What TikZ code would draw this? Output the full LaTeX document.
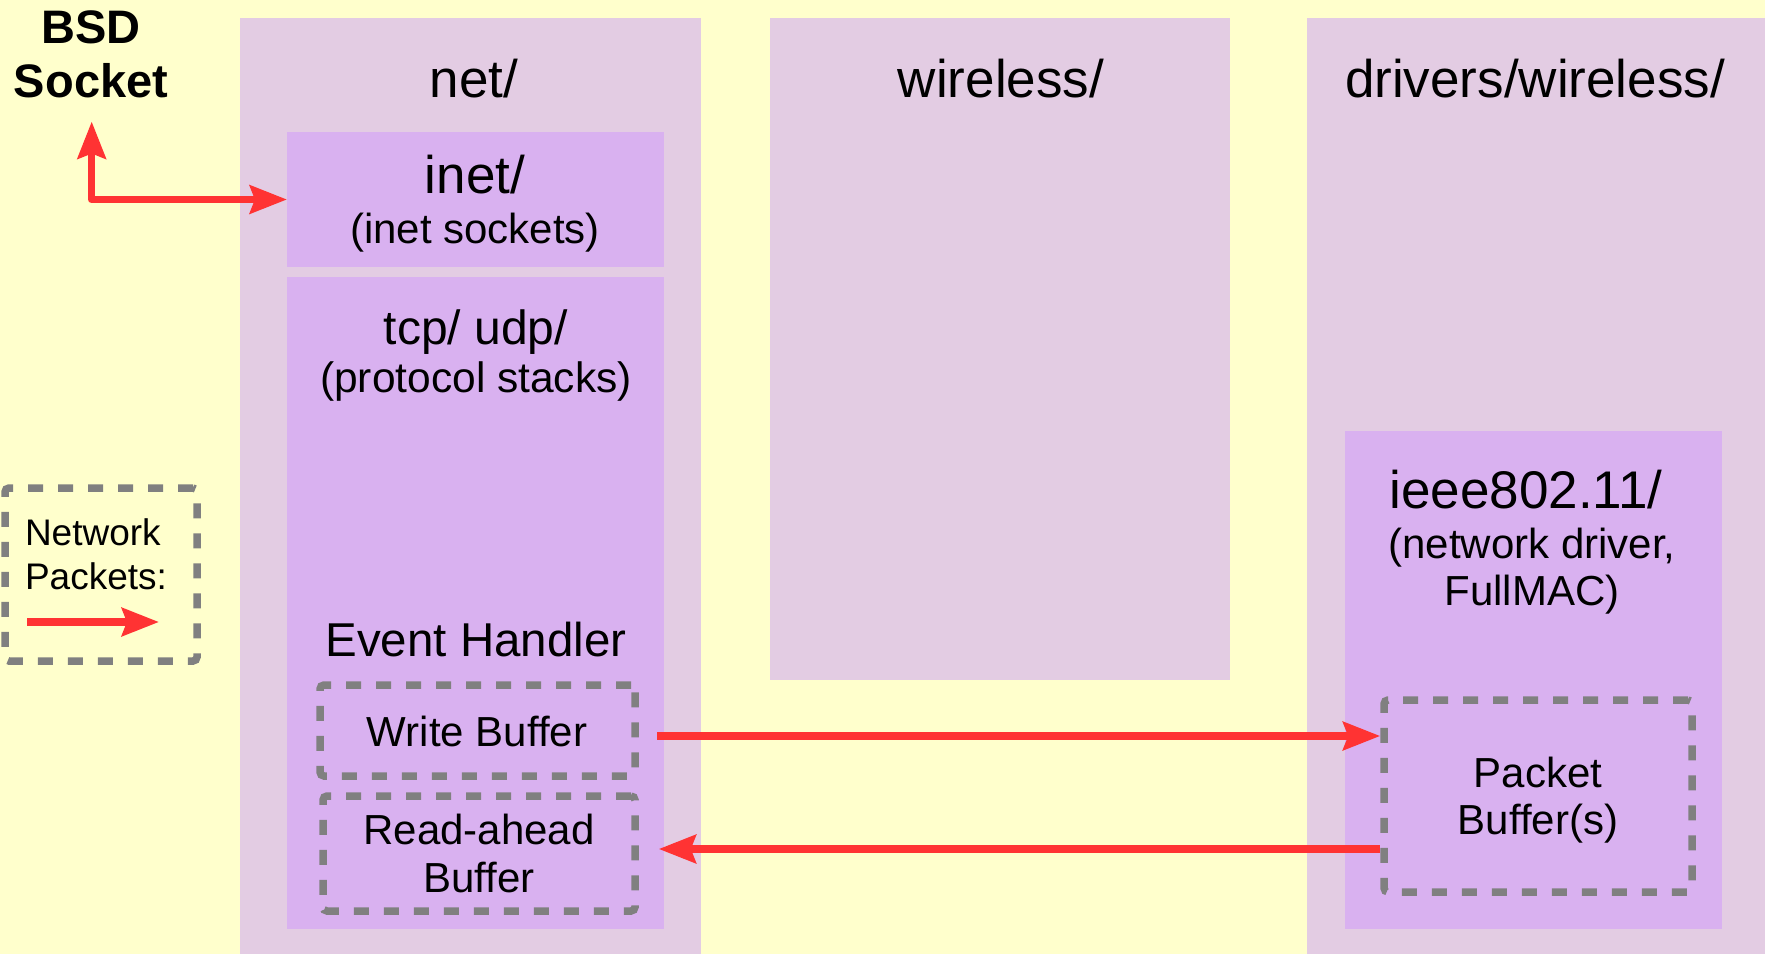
\documentclass[tikz,border=0pt]{standalone}
\usepackage{fontspec}
\setmainfont{Liberation Sans}
\usetikzlibrary{arrows.meta}
\definecolor{bgyellow}{HTML}{FFFFCC}
\definecolor{dircol}{HTML}{E3CCE3}
\definecolor{subdir}{HTML}{D9B1F0}
\definecolor{pktred}{HTML}{FF3333}
\definecolor{dashgray}{HTML}{808080}
\newcommand\setfs[1]{\fontsize{#1}{#1}\selectfont}

\begin{document}
\begin{tikzpicture}[x=1pt,y=-1pt,
  dirbox/.style={fill=dircol, draw=none, inner sep=0, outer sep=0, anchor=center},
  subbox/.style={fill=subdir, draw=none, inner sep=0, outer sep=0, anchor=center},
  bufbox/.style={draw=dashgray, line width=7.5pt, dash pattern=on 15pt off 15pt,
    rounded corners=4pt, inner sep=0, anchor=center},
  lbl/.style={anchor=base, inner sep=0, outer sep=0, text=black},
  pkt/.style={draw=pktred, line width=7.5pt, line join=round, -{Stealth[length=37pt,width=28pt,inset=5pt]}},
  pktboth/.style={draw=pktred, line width=7.5pt, line join=round,
    {Stealth[length=37pt,width=28pt,inset=5pt]}-{Stealth[length=37pt,width=28pt,inset=5pt]}}
]
\useasboundingbox (0,0) rectangle (1765,954);
\fill[bgyellow] (0,0) rectangle (1765,954);

% source tree columns
\node[dirbox, minimum width=461pt, minimum height=936pt] (net) at (470.5,486) {};
\node[dirbox, minimum width=460pt, minimum height=662pt] (wl) at (1000,349) {};
\node[dirbox, minimum width=458pt, minimum height=936pt] (drv) at (1536,486) {};

% sub-directories
\node[subbox, minimum width=377pt, minimum height=135pt] (inet) at (475.5,199.5) {};
\node[subbox, minimum width=377pt, minimum height=652pt] (tcp) at (475.5,603) {};
\node[subbox, minimum width=377pt, minimum height=498pt] (ieee) at (1533.5,680) {};

% column headings
\node[lbl, font=\setfs{53}] (netlbl) at (474,97) {net/};
\node[lbl, font=\setfs{53}] (wllbl) at (1001,97) {wireless/};
\node[lbl, font=\setfs{53}] (drvlbl) at (1535,97) {drivers/wireless/};

% sub-directory labels
\node[lbl, font=\setfs{53}] (inetlbl) at (475,193) {inet/};
\node[lbl, font=\setfs{42}] (inetsub) at (475,243) {(inet sockets)};
\node[lbl, font=\setfs{48}] (tcplbl) at (476,344) {tcp/ udp/};
\node[lbl, font=\setfs{42.5}] (tcpsub) at (476,392) {(protocol stacks)};
\node[lbl, font=\setfs{47.5}] (evlbl) at (476,656) {Event Handler};
\node[lbl, font=\setfs{53}] (ieeelbl) at (1526,508) {ieee802.11/};
\node[lbl, font=\setfs{42}] (ieeesub) at (1532,558) {(network driver,};
\node[lbl, font=\setfs{42}] (ieeesubb) at (1532,605) {FullMAC)};

% buffers
\node[bufbox, minimum width=315pt, minimum height=91pt] (wb) at (477.5,730.5) {};
\node[bufbox, minimum width=312pt, minimum height=115pt] (rb) at (479,853.5) {};
\node[bufbox, minimum width=308pt, minimum height=192pt] (pb) at (1538,796) {};
\node[lbl, font=\setfs{42}] (wbtxt) at (477,746) {Write Buffer};
\node[lbl, font=\setfs{42}] (rbtxt) at (479,844) {Read-ahead};
\node[lbl, font=\setfs{42}] (rbtxtb) at (479,892) {Buffer};
\node[lbl, font=\setfs{42}] (pbtxt) at (1538,787) {Packet};
\node[lbl, font=\setfs{42}] (pbtxtb) at (1538,834) {Buffer(s)};

% BSD socket interface
\node[lbl, font=\bfseries\setfs{47}] (bsd) at (91,43) {BSD};
\node[lbl, font=\bfseries\setfs{47}] (sock) at (91,97) {Socket};
\coordinate (bsdtip) at (91.7,121.5);
\draw[pktboth] (bsdtip) |- (inet.west);

% packet flow between buffers
\draw[pkt, shorten <=18.5pt] ([yshift=-5.5pt]wb.east) -- ([yshift=-5.5pt]wb.east -| pb.west);
\coordinate (rdsrc) at ([yshift=-53pt]pb.west);
\draw[pkt, shorten >=20pt] (rdsrc) -- (rdsrc -| rb.east);

% legend
\node[bufbox, minimum width=192pt, minimum height=173pt] (legend) at (101,574.5) {};
\node[lbl, anchor=base west, font=\setfs{37}] (lgtxt) at (25,545) {Network};
\node[lbl, anchor=base west, font=\setfs{37}] (lgtxtb) at (25,589) {Packets:};
\coordinate (lgA) at (27,622);
\coordinate (lgB) at (159,622);
\draw[pkt] (lgA) -- (lgB);
\end{tikzpicture}
\end{document}
